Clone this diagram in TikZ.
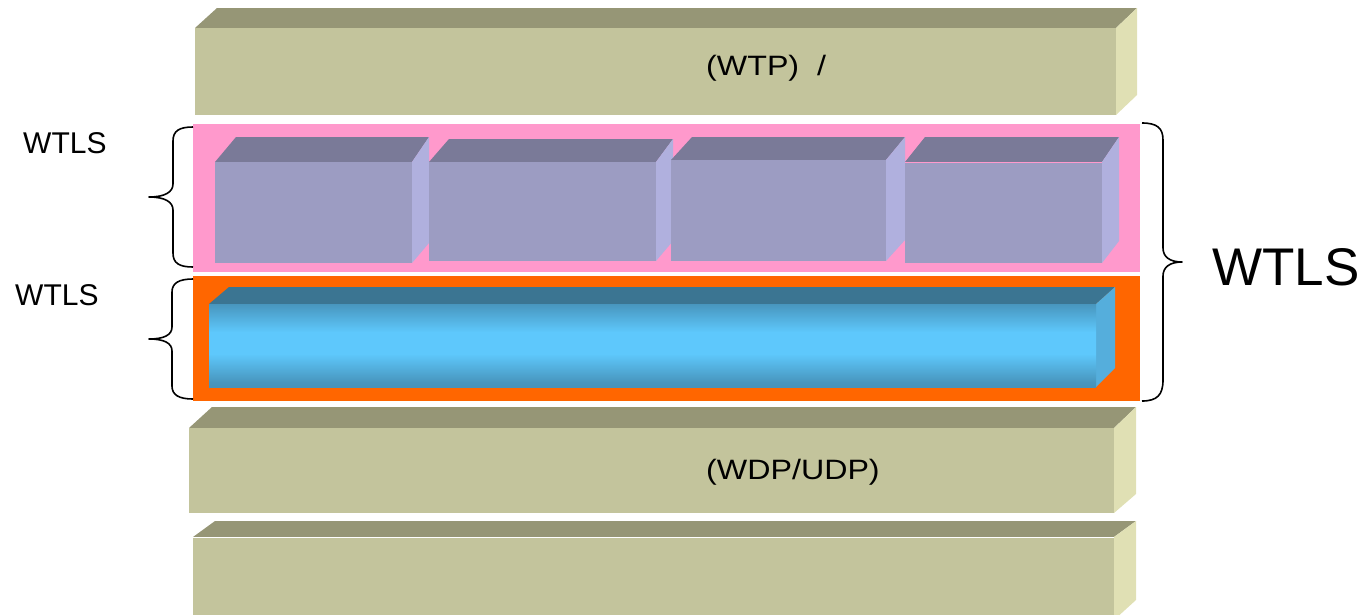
\documentclass[tikz,border=0pt]{standalone}
\usepackage{fontspec}
\setmainfont{Liberation Sans}
\newfontfamily\widesans[FakeStretch=1.15]{Liberation Sans}
\definecolor{olivefront}{RGB}{195,196,156}
\definecolor{olivetop}{RGB}{150,150,118}
\definecolor{oliveside}{RGB}{224,224,180}
\definecolor{pinkband}{RGB}{255,153,204}
\definecolor{lilacfront}{RGB}{156,156,194}
\definecolor{lilactop}{RGB}{122,122,152}
\definecolor{lilacside}{RGB}{176,176,222}
\definecolor{orangeband}{RGB}{255,102,0}
\definecolor{tubetop}{RGB}{59,117,146}
\definecolor{tubeside}{RGB}{85,174,220}
\definecolor{tubedark}{RGB}{58,118,150}
\definecolor{tubemid}{RGB}{72,150,190}
\definecolor{tubelight}{RGB}{94,200,252}
\pgfdeclareverticalshading{tube}{100bp}{color(0bp)=(tubedark); color(28bp)=(tubemid); color(45bp)=(tubelight); color(58bp)=(tubelight); color(75bp)=(tubemid); color(100bp)=(tubedark)}
\tikzset{
  ofront/.style={fill=olivefront},
  otop/.style={fill=olivetop},
  oside/.style={fill=oliveside},
  lfront/.style={fill=lilacfront},
  ltop/.style={fill=lilactop},
  lside/.style={fill=lilacside},
  bracestroke/.style={draw=black, line width=1.6pt, line join=round},
  lbl/.style={inner sep=0pt, anchor=base west, text=black},
  midtext/.style={lbl, font=\widesans\fontsize{28}{34}\selectfont},
  sidetext/.style={lbl, font=\fontsize{30}{36}\selectfont}
}
% one lilac block: front x1,x2, front top/bottom, back x1,x2, back top, side bottom
\newcommand\lilacblock[8]{%
  \fill[ltop] (#1,#3) -- (#5,#7) -- (#6,#7) -- (#2,#3) -- cycle;
  \fill[lside] (#2,#3) -- (#6,#7) -- (#6,#8) -- (#2,#4) -- cycle;
  \fill[lfront] (#1,#3) rectangle (#2,#4);
}
\begin{document}
\begin{tikzpicture}[x=1pt,y=-1pt]
\useasboundingbox (0,0) rectangle (1363,614);
\clip (0,0) rectangle (1363,614);

% application layer slab
\fill[otop] (195,28) -- (217,8) -- (1137,8) -- (1116,28) -- cycle;
\fill[oside] (1116,28) -- (1137,8) -- (1137,95) -- (1116,115) -- cycle;
\fill[ofront] (195,28) rectangle (1116,115);
\node[midtext] (wtp) at (706,75) {(WTP)~~/};

% pink band with four lilac blocks
\fill[pinkband] (193,124) rectangle (1140,272);
\lilacblock{215}{412}{162}{263}{236}{429}{137}{243}
\lilacblock{429}{656}{162}{261}{449}{673}{139}{241}
\lilacblock{671}{886}{160}{261}{692}{905}{137}{240}
\lilacblock{905}{1102}{162}{263}{925}{1119}{137}{241}
\draw[pinkband, line width=0.8pt] (905,162) -- (1102,162);

% orange band with the tube
\fill[orangeband] (193,276) rectangle (1140,401);
\fill[tubetop] (209,304) -- (229,287) -- (1115,287) -- (1096,304) -- cycle;
\fill[tubeside] (1096,304) -- (1115,287) -- (1115,368) -- (1096,387) -- cycle;
\shade[shading=tube] (209,304) rectangle (1096,387);

% transport layer slab
\fill[otop] (189,428) -- (212,407) -- (1136,407) -- (1114,428) -- cycle;
\fill[oside] (1114,428) -- (1136,407) -- (1136,494) -- (1114,513) -- cycle;
\fill[ofront] (189,428) rectangle (1114,513);
\node[midtext] (wdp) at (706,479) {(WDP/UDP)};

% bottom slab
\fill[otop] (193,537) -- (215,521) -- (1136,521) -- (1114,537) -- cycle;
\fill[oside] (1114,537) -- (1136,521) -- (1136,600) -- (1114,620) -- cycle;
\fill[ofront] (193,537) rectangle (1114,620);
\draw[white, line width=1pt] (193,537) -- (1114,537);

% braces
\coordinate (b1top) at (193,127);
\coordinate (b1tip) at (149,197);
\coordinate (b1bot) at (193,267);
\draw[bracestroke] (b1top) .. controls (179,127) and (173,131) .. (173,141)
  -- (173,184) .. controls (173,192) and (165,197) .. (b1tip)
  .. controls (165,197) and (173,202) .. (173,210)
  -- (173,253) .. controls (173,263) and (179,267) .. (b1bot);

\coordinate (b2top) at (193,279);
\coordinate (b2tip) at (149,339);
\coordinate (b2bot) at (193,399);
\draw[bracestroke] (b2top) .. controls (179,279) and (172,283) .. (172,292)
  -- (172,327) .. controls (172,335) and (164,339) .. (b2tip)
  .. controls (164,339) and (172,343) .. (172,351)
  -- (172,386) .. controls (172,395) and (179,399) .. (b2bot);

\coordinate (b3top) at (1142,123);
\coordinate (b3tip) at (1182,262);
\coordinate (b3bot) at (1142,401);
\draw[bracestroke] (b3top) .. controls (1157,123) and (1163,128) .. (1163,140)
  -- (1163,248) .. controls (1163,257) and (1170,262) .. (b3tip)
  .. controls (1170,262) and (1163,267) .. (1163,276)
  -- (1163,380) .. controls (1163,395) and (1157,401) .. (b3bot);

% labels
\node[sidetext] (wtlsA) at (23,153) {WTLS};
\node[sidetext] (wtlsB) at (15,305) {WTLS};
\node[lbl, font=\fontsize{53}{60}\selectfont] (wtlsR) at (1212,285) {WTLS};
\end{tikzpicture}
\end{document}
